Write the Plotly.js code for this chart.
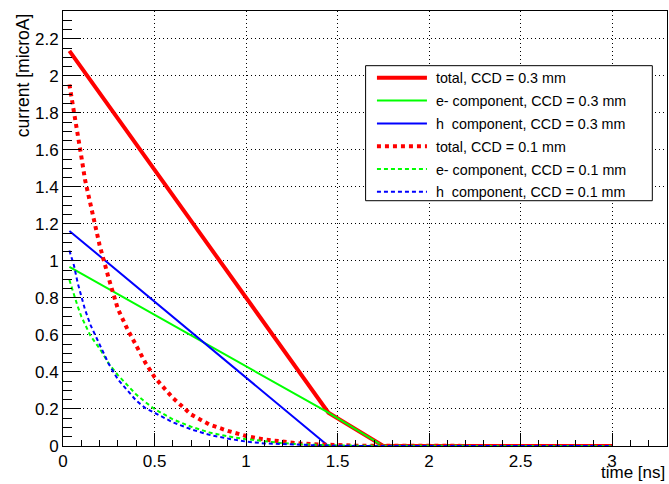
<!DOCTYPE html>
<html>
<head>
<meta charset="utf-8">
<script src="https://cdn.plot.ly/plotly-3.0.1.min.js"></script>
<style>html,body{margin:0;padding:0;background:#fff;}#chart{width:669px;height:484px;}</style>
</head>
<body>
<div id="chart"></div>
<script>
// ---- data ----
const seriesNames = [
  'total, CCD = 0.3 mm',
  'e- component, CCD = 0.3 mm',
  'h  component, CCD = 0.3 mm',
  'total, CCD = 0.1 mm',
  'e- component, CCD = 0.1 mm',
  'h  component, CCD = 0.1 mm'
];
const t03 = [0.035, 1.45, 1.75, 3.0];
const total03 = [2.135, 0.18, 0, 0];
const e03 = [0.968, 0.18, 0, 0];
const tH03 = [0.035, 1.45, 3.0];
const h03 = [1.162, 0, 0];

const t01 = [0.035, 0.06, 0.08, 0.10, 0.12, 0.15, 0.20, 0.25, 0.30, 0.35, 0.40, 0.45, 0.50,
             0.60, 0.70, 0.80, 0.90, 1.00, 1.10, 1.20, 1.30, 1.40, 1.50, 1.60, 1.75, 2.00, 2.50, 3.00];
const total01 = [1.953, 1.815, 1.68, 1.565, 1.44, 1.30, 1.085, 0.905, 0.74, 0.635, 0.537, 0.45, 0.372,
                 0.26, 0.17, 0.116, 0.082, 0.054, 0.035, 0.022, 0.013, 0.008, 0.004, 0.002, 0.001, 0, 0, 0];
const e01 = [0.897, 0.815, 0.755, 0.70, 0.655, 0.595, 0.527, 0.445, 0.383, 0.33, 0.278, 0.237, 0.20,
             0.144, 0.104, 0.073, 0.052, 0.037, 0.024, 0.015, 0.009, 0.005, 0.003, 0.002, 0.001, 0, 0, 0];
const h01 = [1.056, 0.975, 0.882, 0.805, 0.738, 0.654, 0.545, 0.443, 0.36, 0.30, 0.245, 0.205, 0.18,
             0.128, 0.09, 0.06, 0.04, 0.024, 0.014, 0.009, 0.005, 0.003, 0.001, 0, 0, 0, 0, 0];

const xTitle = 'time [ns]';
const yTitle = 'current [microA]';

// ---- styles ----
const FONT = '"Liberation Sans", Arial, Helvetica, sans-serif';
const RED = '#ff0000', GREEN = '#00ff00', BLUE = '#0000ff';

function tr(x, y, i, color, width, dash) {
  return {
    x: x, y: y, name: '\u00a0' + seriesNames[i], type: 'scatter', mode: 'lines',
    legendgroup: 'g' + i,
    line: {color: color, width: width, dash: dash}, hoverinfo: 'skip'
  };
}

const data = [
  tr(t03, total03, 0, RED, 4, 'solid'),
  tr(t03, e03, 1, GREEN, 2, 'solid'),
  tr(tH03, h03, 2, BLUE, 2, 'solid'),
  tr(t01, total01, 3, RED, 4, '4px,4px'),
  tr(t01, e01, 4, GREEN, 2, '4px,3px'),
  tr(t01, h01, 5, BLUE, 2, '4px,3px')
];

const axisCommon = {
  showline: true, linecolor: '#000', linewidth: 1, mirror: true,
  zeroline: false, showgrid: true, gridcolor: '#000', gridwidth: 1, griddash: '1px,3px',
  ticks: 'inside', tickcolor: '#000', tickwidth: 1,
  tickfont: {family: FONT, size: 17, color: '#000'}
};

const layout = {
  width: 669, height: 484,
  margin: {l: 63, r: 2, t: 11, b: 38, pad: 0},
  paper_bgcolor: '#fff', plot_bgcolor: '#fff',
  showlegend: true,
  font: {family: FONT, color: '#000'},
  xaxis: Object.assign({}, axisCommon, {
    range: [0, 3.3], dtick: 0.5, tick0: 0, ticklen: 13,
    minor: {dtick: 0.1, tick0: 0, ticklen: 6.5, ticks: 'inside', tickcolor: '#000', tickwidth: 1, showgrid: false}
  }),
  yaxis: Object.assign({}, axisCommon, {
    range: [0, 2.35], dtick: 0.2, tick0: 0, ticklen: 18,
    minor: {dtick: 0.05, tick0: 0, ticklen: 9, ticks: 'inside', tickcolor: '#000', tickwidth: 1, showgrid: false}
  }),
  legend: {
    x: 0.5115, y: 0.8827, xanchor: 'left', yanchor: 'top',
    bgcolor: 'rgba(0,0,0,0)', borderwidth: 0,
    font: {family: FONT, size: 14.3, color: '#000'},
    itemwidth: 50, tracegroupgap: 1.2, traceorder: 'grouped'
  },
  shapes: [{
    type: 'rect', xref: 'paper', yref: 'paper', layer: 'above',
    x0: 0.501, x1: 0.9757, y0: 0.5639, y1: 0.8743,
    line: {color: '#000', width: 1}, fillcolor: '#fff'
  }],
  annotations: [
    {text: xTitle, xref: 'paper', yref: 'paper', x: 1, y: -0.0873, xanchor: 'right', yanchor: 'bottom',
     showarrow: false, font: {family: FONT, size: 17, color: '#000'}},
    {text: yTitle, xref: 'paper', yref: 'paper', x: -0.066, y: 1.0, xanchor: 'center', yanchor: 'top',
     textangle: -90, showarrow: false, font: {family: FONT, size: 17.5, color: '#000'}}
  ]
};

Plotly.newPlot('chart', data, layout, {staticPlot: true, displayModeBar: false});
</script>
</body>
</html>
